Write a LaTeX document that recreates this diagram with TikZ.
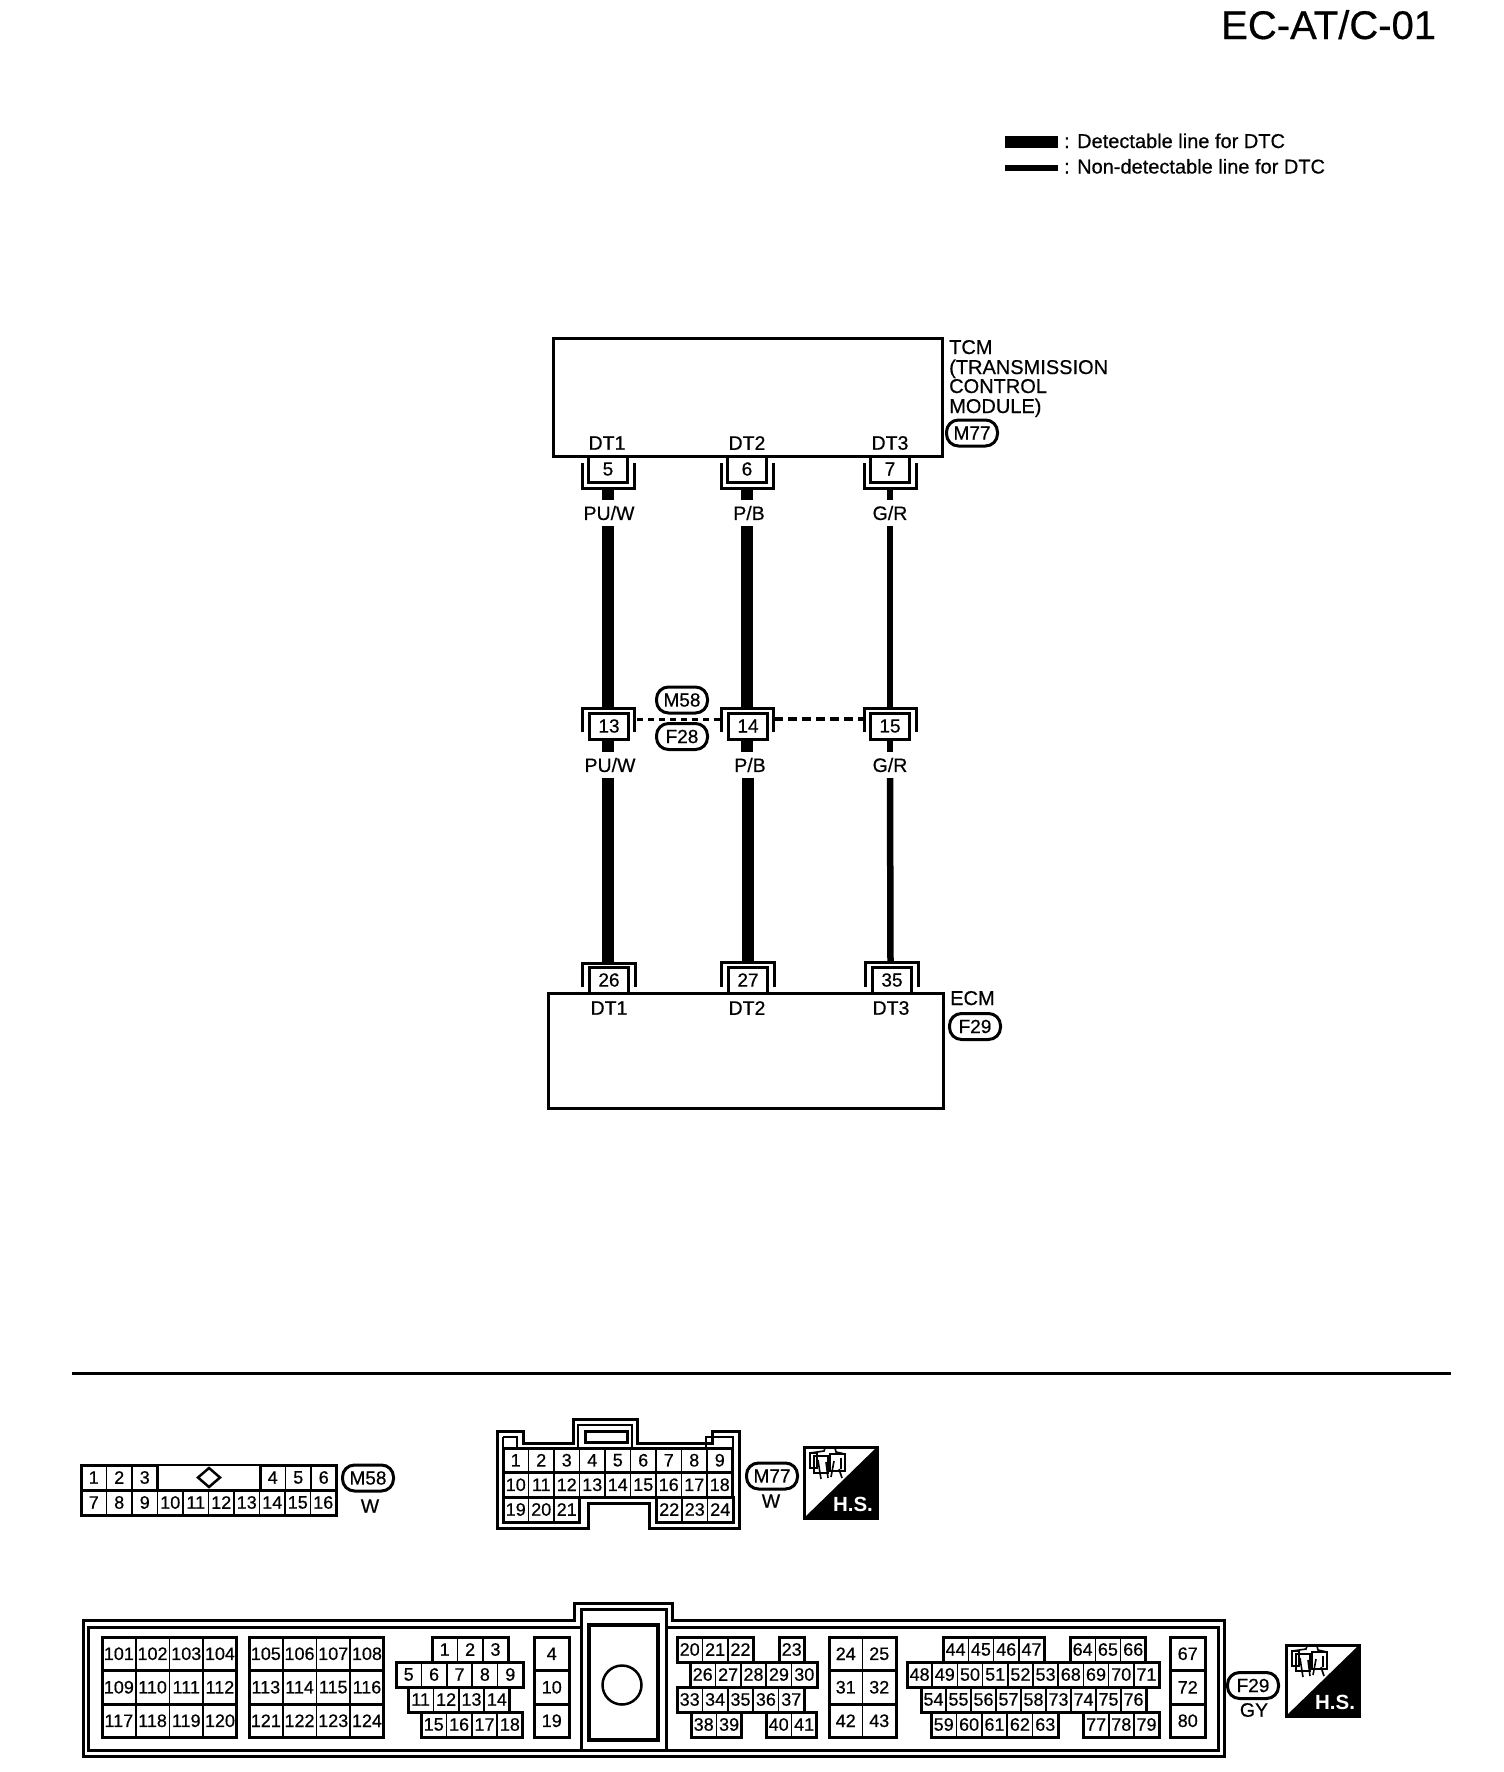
\documentclass[tikz,border=0pt]{standalone}
\usepackage{fontspec}
\setmainfont[FakeBold=0.5]{Liberation Sans}
\newfontfamily\plainbold{Liberation Sans Bold}
\newcommand\fsz[1]{\fontsize{#1}{#1}\selectfont}
\tikzset{
  outl/.style={draw=black,line width=3pt,line join=miter},
  boxnode/.style={draw=black,line width=3pt,fill=none,inner sep=0pt},
  pinbox/.style={draw=black,line width=3pt,fill=white,inner sep=0pt,minimum width=39pt,minimum height=26pt,font=\fsz{19}},
  brk/.style={draw=black,line width=3pt,line join=miter},
  cellnode/.style={draw=black,line width=1.6pt,inner sep=0pt,font=\fsz{18}},
  wirelab/.style={inner sep=0pt,minimum height=26pt,font=\fsz{19.5}},
  txt/.style={inner sep=0pt,font=\fsz{19.5}},
  txtw/.style={txt,font=\fsz{20},anchor=base west},
  oval/.style={draw=black,line width=3pt,rounded corners=12pt,inner sep=0pt,minimum width=51pt,minimum height=26pt,font=\fsz{19}},
  detline/.style={draw=black,line width=12pt},
  nonline/.style={draw=black,line width=6.5pt},
  dashA/.style={draw=black,line width=3pt,dash pattern=on 6pt off 5pt},
  dashB/.style={draw=black,line width=3.5pt,dash pattern=on 9pt off 5pt},
}
% x, y, pitch, height, prefix, list
\newcommand\crow[6]{%
  \foreach \n [count=\i] in {#6} {
    \node[cellnode,minimum width=#3pt,minimum height=#4pt] (#5\n) at ({#1+(\i-.5)*#3},{#2+#4/2}) {\n};
    \xdef\cnt{\i}
  }
  \draw[outl] (#1,#2) rectangle ({#1+\cnt*#3},{#2+#4});
}
% H.S. icon at top-left
\newcommand\hsicon[3]{%
  \begin{scope}[shift={(#1,#2)}]
    \fill[black] (73,0) -- (73,71) -- (0,71) -- cycle;
    \draw[black,line width=3pt] (0,0) rectangle (73,71);
    \node[inner sep=0pt,text=white,font=\fsz{20.5}\plainbold] (#3) at (49,57) {H.S.};
    \draw[black,line width=1.6pt] (6,6) rectangle (13,21) (10,9) rectangle (24,26) (26,7) rectangle (41,24)
      (6,6) -- (20,4) -- (21,1) -- (31,1) -- (32,5) -- (41,7)
      (16,26) -- (17,32) (22,15) -- (24,31) (30,14) -- (27,30) (35,22) -- (38,31) (14,13) -- (16,26) (37,11) -- (37,22);
  \end{scope}
}
\begin{document}
\begin{tikzpicture}[x=1pt,y=-1pt]
\useasboundingbox (0,0) rectangle (1504,1772);
\fill[white] (0,0) rectangle (1504,1772);

% title and legend
\node[inner sep=0pt,anchor=base west,font=\fsz{40}] (title) at (1221,39) {EC-AT/C-01};
\node[draw=black,fill=black,inner sep=0pt,minimum width=52pt,minimum height=11pt] (legA) at (1031,141.5) {};
\node[draw=black,fill=black,inner sep=0pt,minimum width=52pt,minimum height=5pt] (legB) at (1031,167.5) {};
\node[inner sep=0pt,anchor=base west,font=\fsz{20}] (legAt) at (1064,148) {: Detectable line for DTC};
\node[inner sep=0pt,anchor=base west,font=\fsz{20}] (legBt) at (1064,173.5) {: Non-detectable line for DTC};

% TCM
\node[boxnode,minimum width=389pt,minimum height=118pt] (tcm) at (747.5,397) {};
\node[txtw] (t1) at (949,354) {TCM};
\node[txtw] (t2) at (949,374) {(TRANSMISSION};
\node[txtw] (t3) at (949,393) {CONTROL};
\node[txtw] (t4) at (949,413) {MODULE)};
\node[oval] (ovM77) at (972,433) {M77};
\node[txt] (dt1a) at (607,443) {DT1};
\node[txt] (dt2a) at (747,443) {DT2};
\node[txt] (dt3a) at (890,443) {DT3};

% top pins
\node[pinbox] (p5) at (608,469) {5};
\node[pinbox] (p6) at (747,469) {6};
\node[pinbox] (p7) at (890,469) {7};
\draw[brk] (582,463) -- (582,488) -- (634,488) -- (634,463);
\draw[brk] (721,463) -- (721,488) -- (773,488) -- (773,463);
\draw[brk] (864,463) -- (864,488) -- (916,488) -- (916,463);
\coordinate (b5) at (607.5,488);
\coordinate (b6) at (747,488);
\coordinate (b7) at (890,488);

% wire labels, upper
\node[wirelab] (l5) at (609,513) {PU/W};
\node[wirelab] (l6) at (749,513) {P/B};
\node[wirelab] (l7) at (890,513) {G/R};

% middle pins
\node[pinbox] (p13) at (609,726) {13};
\node[pinbox] (p14) at (748,726) {14};
\node[pinbox] (p15) at (890,726) {15};
\draw[brk] (582,732) -- (582,708) -- (634,708) -- (634,732);
\draw[brk] (721,732) -- (721,708) -- (773,708) -- (773,732);
\draw[brk] (864,732) -- (864,708) -- (916,708) -- (916,732);
\coordinate (t13) at (607.5,708);
\coordinate (t14) at (747,708);
\coordinate (t15) at (890,708);
\coordinate (d13) at (637,719);
\coordinate (d14l) at (720,719);
\coordinate (d14r) at (774,719);
\coordinate (d15) at (863,719);
\draw[dashA] (d13) -- (d14l);
\draw[dashB] (d14r) -- (d15);
\node[oval] (ovM58) at (682,700) {M58};
\node[oval] (ovF28) at (682,736.5) {F28};

% wire labels, lower
\node[wirelab] (l13) at (610,765) {PU/W};
\node[wirelab] (l14) at (750,765) {P/B};
\node[wirelab] (l15) at (890,765) {G/R};

% ECM
\node[boxnode,minimum width=395pt,minimum height=115pt] (ecm) at (745.5,1050.5) {};
\node[txt] (dt1b) at (609,1008) {DT1};
\node[txt] (dt2b) at (747,1008) {DT2};
\node[txt] (dt3b) at (891,1008) {DT3};
\node[txtw] (e1) at (950,1005) {ECM};
\node[oval] (ovF29) at (975,1026.5) {F29};

% bottom pins
\node[pinbox] (p26) at (609,980) {26};
\node[pinbox] (p27) at (748,980) {27};
\node[pinbox] (p35) at (892,980) {35};
\draw[brk] (582,987) -- (582,963) -- (635,963) -- (635,987);
\draw[brk] (721,987) -- (721,962) -- (774,962) -- (774,987);
\draw[brk] (865,987) -- (865,962) -- (918,962) -- (918,987);
\coordinate (t26) at (608,963);
\coordinate (t27) at (747.5,962);
\coordinate (t35) at (890.5,962);

% wires
\draw[detline] (b5) -- (b5 |- l5.north);
\draw[detline] (b6) -- (b6 |- l6.north);
\draw[nonline] (b7) -- (l7.north);
\draw[detline] (t13 |- l5.south) -- (t13);
\draw[detline] (t14 |- l6.south) -- (t14);
\draw[nonline] (l7.south) -- (t15);
\draw[detline] (t13 |- p13.south) -- (l13.north -| t13);
\draw[detline] (t14 |- p14.south) -- (l14.north -| t14);
\draw[nonline] (p15.south) -- (l15.north);
\draw[detline] (l13.south -| t26) -- (t26);
\draw[detline] (l14.south -| t27) -- (t27);
\draw[nonline] (l15.south) -- (t35);

% separator
\coordinate (ruleL) at (72,1373);
\coordinate (ruleR) at (1451,1373);
\draw[outl] (ruleL) -- (ruleR);

% M58 connector
\crow{81}{1465}{25.5}{25}{a}{1,2,3}
\node[cellnode,minimum width=102pt,minimum height=25pt] (aw) at (209,1477.5) {};
\crow{260}{1465}{25.5}{25}{a}{4,5,6}
\crow{81}{1490}{25.5}{25}{a}{7,8,9,10,11,12,13,14,15,16}
\draw[black,line width=2.5pt,fill=white] (209,1468) -- (220,1477.5) -- (209,1487) -- (198,1477.5) -- cycle;
\node[oval] (ovM58b) at (368,1478) {M58};
\node[txt] (wa) at (370,1506) {W};

% M77 connector
\draw[outl] (497,1431) -- (523,1431) -- (523,1443) -- (573,1443) -- (573,1419) -- (637,1419) -- (637,1443) -- (712,1443) -- (712,1431) -- (739,1431) -- (739,1528) -- (649,1528) -- (649,1503) -- (588,1503) -- (588,1528) -- (497,1528) -- cycle;
\draw[black,line width=2.5pt] (503,1437) -- (517,1437) -- (517,1449) -- (578,1449) -- (578,1425) -- (632,1425) -- (632,1449) -- (706,1449) -- (706,1437) -- (733,1437) -- (733,1448);
\draw[black,line width=2.5pt] (503,1437) -- (503,1448);
\draw[outl] (585,1431) rectangle (627,1442);
\crow{503}{1448}{25.5}{24.5}{b}{1,2,3,4,5,6,7,8,9}
\crow{503}{1472.5}{25.5}{24.5}{b}{10,11,12,13,14,15,16,17,18}
\crow{503}{1497}{25.5}{25}{b}{19,20,21}
\crow{656.5}{1497}{25.5}{25}{b}{22,23,24}
\node[oval] (ovM77b) at (772,1476) {M77};
\node[txt] (wb) at (771,1501) {W};
\hsicon{804}{1447}{hsA}

% ECM connector
\draw[outl] (83,1620) -- (574,1620) -- (574,1603) -- (672,1603) -- (672,1620) -- (1224,1620) -- (1224,1756) -- (83,1756) -- cycle;
\draw[outl] (581,1627) -- (88.5,1627) -- (88.5,1750) -- (1218,1750) -- (1218,1627) -- (666,1627);
\draw[outl] (581,1750) -- (581,1609) -- (666,1609) -- (666,1750);
\node[draw=black,line width=3.5pt,inner sep=0pt,minimum width=69pt,minimum height=115pt] (ctr) at (623.5,1682.5) {};
\node[draw=black,circle,line width=2.5pt,inner sep=0pt,minimum size=39pt] (hole) at (622,1685) {};

\crow{102}{1637}{33.7}{33.5}{c}{101,102,103,104}
\crow{102}{1670.5}{33.7}{33.5}{c}{109,110,111,112}
\crow{102}{1704}{33.7}{33.5}{c}{117,118,119,120}
\crow{249}{1637}{33.7}{33.5}{c}{105,106,107,108}
\crow{249}{1670.5}{33.7}{33.5}{c}{113,114,115,116}
\crow{249}{1704}{33.7}{33.5}{c}{121,122,123,124}

\crow{432}{1637}{25.4}{25}{c}{1,2,3}
\crow{396}{1662}{25.4}{25}{c}{5,6,7,8,9}
\crow{408}{1687}{25.4}{25}{c}{11,12,13,14}
\crow{421}{1712}{25.4}{25}{c}{15,16,17,18}

\crow{534.5}{1637}{34.5}{33.5}{c}{4}
\crow{534.5}{1670.5}{34.5}{33.5}{c}{10}
\crow{534.5}{1704}{34.5}{33.5}{c}{19}

\crow{677}{1637}{25.4}{25}{c}{20,21,22}
\crow{779}{1637}{25.4}{25}{c}{23}
\crow{690}{1662}{25.4}{25}{c}{26,27,28,29,30}
\crow{677}{1687}{25.4}{25}{c}{33,34,35,36,37}
\crow{691}{1712}{25.4}{25}{c}{38,39}
\crow{766}{1712}{25.4}{25}{c}{40,41}

\crow{829}{1637}{33.5}{33.5}{c}{24,25}
\crow{829}{1670.5}{33.5}{33.5}{c}{31,32}
\crow{829}{1704}{33.5}{33.5}{c}{42,43}

\crow{943}{1637}{25.3}{25}{c}{44,45,46,47}
\crow{1070}{1637}{25.3}{25}{c}{64,65,66}
\crow{907}{1662}{25.2}{25}{c}{48,49,50,51,52,53,68,69,70,71}
\crow{921}{1687}{25}{25}{c}{54,55,56,57,58,73,74,75,76}
\crow{931}{1712}{25.4}{25}{c}{59,60,61,62,63}
\crow{1083.5}{1712}{25.2}{25}{c}{77,78,79}

\crow{1170.5}{1637}{34.5}{33.5}{c}{67}
\crow{1170.5}{1670.5}{34.5}{33.5}{c}{72}
\crow{1170.5}{1704}{34.5}{33.5}{c}{80}

\node[oval] (ovF29b) at (1253,1685.5) {F29};
\node[txt] (gy) at (1254,1710) {GY};
\hsicon{1286}{1645}{hsB}
\end{tikzpicture}
\end{document}
